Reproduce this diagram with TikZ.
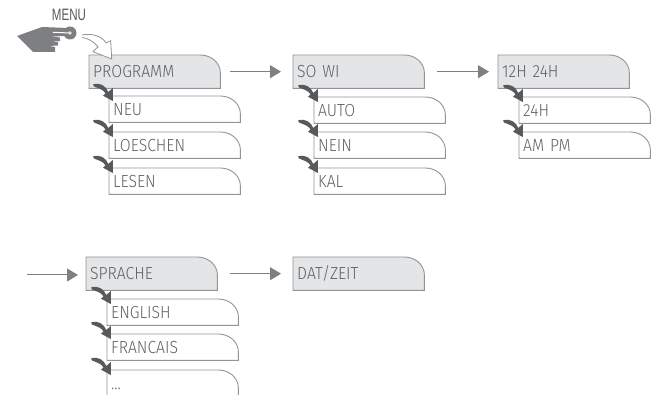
\documentclass[tikz,border=0pt]{standalone}
\usepackage{fontspec}
\usetikzlibrary{arrows.meta,backgrounds}
\setmainfont{Liberation Sans}
\newfontfamily\lcdfont[FakeStretch=0.9]{Fira Sans Light}
\newfontfamily\menufont[FakeStretch=0.7]{Liberation Sans}
\definecolor{boxfill}{RGB}{228,229,231}
\definecolor{boxline}{RGB}{145,147,150}
\definecolor{darrow}{RGB}{88,89,91}
\definecolor{flowgray}{RGB}{125,127,130}
\definecolor{lcdtext}{RGB}{95,96,98}
\tikzset{
    tabbox/.style={anchor=north west, inner xsep=4pt, inner ysep=0pt, text width=123pt,
        text height=12.5pt, text depth=0pt, text=lcdtext,
        font=\lcdfont\fontsize{17.5}{17.5}\selectfont},
    tabline/.style={draw=boxline, line width=0.9pt},
    flow/.style={draw=flowgray, line width=1pt, -{Triangle[length=11pt,width=13pt]}},
    subarrow/.pic={
        \fill[darrow] (-16,-11.5) .. controls (-9,-14) and (-3,-10) .. (-0.7,-4)
            -- (3.8,-8) -- (3.8,5) -- (-6,-0.3) -- (-3.5,-2.5)
            .. controls (-5,-6) and (-10,-7.5) .. (-15,-9.5) -- cycle;
    },
}
\newcommand{\tabpath}[1]{(#1.north west) -- (#1.south west) -- (#1.south east)
    -- ([yshift=-18pt]#1.north east) .. controls ([yshift=-8pt]#1.north east) and ([xshift=-9pt]#1.north east)
    .. ([xshift=-20pt]#1.north east) -- cycle}
\begin{document}
\begin{tikzpicture}[x=1pt, y=-1pt]
    \useasboundingbox (0,0) rectangle (656,395);
    % head boxes
    \foreach \px/\py/\pname/\ptext in {89/55/prog/PROGRAMM, 293/55/sowi/SO WI, 498/55/hour/12H 24H, 86/257/lang/SPRACHE, 293/257/date/{DAT/ZEIT}} {
        \node[tabbox, minimum height=33pt] (\pname) at (\px,\py) {\ptext};
        \begin{scope}[on background layer]
            \draw[tabline, fill=boxfill] \tabpath{\pname};
        \end{scope}
    }
    % sub boxes
    \foreach \px/\py/\pname/\ptext in {109/96/neu/NEU, 109/132/del/LOESCHEN, 109/168/read/LESEN, 314/97/auto/AUTO, 314/132/nein/NEIN, 314/168/kal/KAL, 519/97/hoursub/24H, 519/132/ampm/AM PM, 107/299/eng/ENGLISH, 107/334/fra/FRANCAIS} {
        \node[tabbox, minimum height=26pt] (\pname) at (\px,\py) {\ptext};
        \draw[tabline] \tabpath{\pname};
        \pic at (\pname.north west) {subarrow};
    }
    \node[tabbox, minimum height=27pt] (dots) at (107,370) {...};
    \draw[tabline] \tabpath{dots};
    \pic at (dots.north west) {subarrow};
    % flow between the groups
    \coordinate (start) at (27,275);
    \draw[flow, shorten <=10pt, shorten >=12pt] (prog.east) -- (sowi.west);
    \draw[flow, shorten <=13pt, shorten >=9pt] (sowi.east) -- (hour.west);
    \draw[flow, shorten >=8pt] (start) -- (start -| lang.west);
    \draw[flow, shorten <=13pt, shorten >=12pt] (lang.east) -- (date.west);
    % hand on the menu key
    \node[font=\menufont\fontsize{16.5}{16.5}\selectfont, text=darrow, inner sep=0pt] (menu) at (69,15) {MENU};
    \node[circle, fill=flowgray, minimum size=13pt, inner sep=0pt] (key) at (70,33) {};
    \fill[flowgray] (17,36) -- (42,27) -- (68,28) -- (68,36) -- (50,36.5) -- (60,37.5) -- (60,41)
        -- (50,41.5) -- (58,42) -- (58,45.5) -- (49,46) -- (55,47) -- (55,52) -- (40,52) -- (33,52) -- cycle;
    \draw[white, line width=1pt] (53,32.3) -- (key.center);
    \fill[boxfill] (key) circle (1.8);
    \draw[boxline, line width=0.8pt, fill=white, line join=miter] (82,35) .. controls (92,33) and (102,36) .. (106,43)
        -- (110.7,40.7) -- (111.7,59) -- (93,51.7) -- (98,46.7) .. controls (94,42) and (88,38) .. (82,37.5);
\end{tikzpicture}
\end{document}
